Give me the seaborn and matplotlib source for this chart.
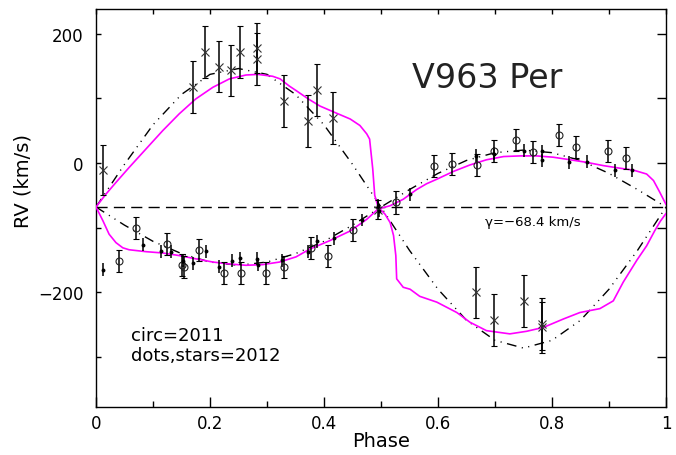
import matplotlib
matplotlib.use("Agg")
import matplotlib.pyplot as plt
import seaborn as sns
import pandas as pd
import numpy as np

# ---------------- data ----------------
gamma = -68.4

# secondary component, 2012 ("stars")
star_phase = [0.012, 0.170, 0.192, 0.215, 0.237, 0.253, 0.282, 0.282, 0.329, 0.372,
              0.387, 0.416, 0.495, 0.667, 0.698, 0.751, 0.783, 0.783]
star_rv = [-11, 117, 172, 149, 143, 172, 178, 161, 96, 65,
           113, 69, -72, -200, -242, -213, -249, -254]
star_err = [39, 40, 40, 39, 40, 40, 39, 40, 40, 40,
            40, 40, 15, 40, 40, 40, 40, 40]

# primary component, 2011 (open circles)
circ_phase = [0.040, 0.070, 0.124, 0.150, 0.155, 0.180, 0.225, 0.254, 0.299, 0.330,
              0.377, 0.4075, 0.451, 0.526, 0.593, 0.624, 0.669, 0.698, 0.736, 0.766,
              0.813, 0.842, 0.899, 0.929]
circ_rv = [-152, -100, -125, -157, -161, -134, -170, -170, -170, -161,
           -131, -143, -104, -61, -5, -1, -3, 19, 35, 17,
           43, 24, 18, 8]
circ_err = [17] * len(circ_phase)

# primary component, 2012 (dots)
dot_phase = [0.012, 0.083, 0.114, 0.132, 0.153, 0.170, 0.193, 0.215, 0.239, 0.253,
             0.282, 0.284, 0.327, 0.3725, 0.387, 0.4175, 0.466, 0.495, 0.496, 0.550,
             0.667, 0.698, 0.751, 0.782, 0.782, 0.830, 0.861, 0.911, 0.941]
dot_rv = [-165, -126, -136, -137, -151, -155, -136, -160, -151, -147,
          -148, -157, -150, -137, -121, -116, -88, -66, -74, -48,
          11, 14, 19, 18, 4, 1, 2, -11, -11]
dot_err = [10] * len(dot_phase)

# orbit solution (dash-dot-dot curves)
orb_phase = [0.00, 0.05, 0.10, 0.15, 0.20, 0.25, 0.30, 0.35, 0.40, 0.45, 0.50,
             0.55, 0.60, 0.65, 0.70, 0.75, 0.80, 0.85, 0.90, 0.95, 1.00]
orb_sec = [-68, -2, 59, 106, 137, 146, 137, 106, 59, -2, -68,
           -135, -195, -243, -274, -286, -274, -243, -195, -135, -68]
orb_pri = [-68, -96, -121, -140, -153, -158, -153, -140, -121, -96, -68,
           -41, -16, 4, 16, 20, 16, 4, -16, -41, -68]

# light-curve model (magenta curves)
mod_sec_phase = [0.000, 0.0175, 0.035, 0.058, 0.088, 0.117, 0.146, 0.175, 0.205, 0.234,
                 0.263, 0.284, 0.310, 0.323, 0.339, 0.351, 0.3725, 0.393, 0.422, 0.446,
                 0.463, 0.475, 0.480, 0.4855, 0.489, 0.495, 0.507, 0.516, 0.522, 0.526,
                 0.5275, 0.539, 0.551, 0.568, 0.598, 0.633, 0.656, 0.685, 0.726, 0.7555,
                 0.785, 0.820, 0.849, 0.884, 0.9075, 0.925, 0.949, 0.966, 0.980, 0.990,
                 1.000]
mod_sec_rv = [-68, -48, -30, -7, 22, 50, 76, 99, 117, 130,
              136, 137, 134, 130, 119, 112, 99, 88, 77, 68,
              58, 45, 37, -9, -50, -68, -79, -92, -112, -143,
              -179, -192, -195, -206, -215, -231, -246, -259, -264, -260,
              -254, -241, -231, -225, -213, -184, -150, -128, -105, -90,
              -78]

mod_pri_phase = [0.000, 0.012, 0.023, 0.035, 0.047, 0.058, 0.088, 0.117, 0.146, 0.175,
                 0.205, 0.234, 0.263, 0.292, 0.322, 0.351, 0.375, 0.410, 0.446, 0.475,
                 0.495, 0.516, 0.539, 0.5625, 0.580, 0.598, 0.627, 0.656, 0.685, 0.715,
                 0.744, 0.773, 0.802, 0.832, 0.861, 0.890, 0.919, 0.943, 0.966, 0.978,
                 0.989, 1.000]
mod_pri_rv = [-68, -89, -110, -123, -131, -134, -137, -139, -143, -148,
              -153, -156, -158, -157, -153, -145, -133, -120, -105, -87,
              -71, -66, -56, -41, -32, -25, -13, -3, 5, 10,
              11, 11, 9, 5, 1, -4, -8, -11, -17, -27,
              -45, -64]

x_ticks = [0, 0.2, 0.4, 0.6, 0.8, 1.0]
x_ticklabels = ["0", "0.2", "0.4", "0.6", "0.8", "1"]
y_ticks = [200, 0, -200]
y_ticklabels = ["200", "0", "\u2212200"]

# ---------------- figure ----------------
sns.set_theme(style="white")
plt.rcParams["font.family"] = ["DejaVu Sans"]
plt.rcParams["axes.linewidth"] = 1.0
plt.rcParams["text.color"] = "black"
plt.rcParams["axes.labelcolor"] = "black"
plt.rcParams["xtick.color"] = "black"
plt.rcParams["ytick.color"] = "black"

fig = plt.figure(figsize=(6.76, 4.56), dpi=100)
ax = fig.add_axes([96 / 676, 48 / 456, 570 / 676, 398 / 456])
ax.set_facecolor("white")

# systemic velocity
ax.axhline(gamma, color="black", lw=1.0, linestyle=(0, (8, 4.5)), zorder=1)

ddot = (0, (7, 4, 0.8, 4, 0.8, 4))
orb = pd.DataFrame({"phase": orb_phase, "sec": orb_sec, "pri": orb_pri})
sns.lineplot(data=orb, x="phase", y="sec", ax=ax, color="black", lw=1.0,
             linestyle=ddot, estimator=None, sort=False, zorder=2)
sns.lineplot(data=orb, x="phase", y="pri", ax=ax, color="black", lw=1.0,
             linestyle=ddot, estimator=None, sort=False, zorder=2)

sec = pd.DataFrame({"phase": mod_sec_phase, "rv": mod_sec_rv})
pri = pd.DataFrame({"phase": mod_pri_phase, "rv": mod_pri_rv})
sns.lineplot(data=sec, x="phase", y="rv", ax=ax, color="#ff00ff", lw=1.2,
             estimator=None, sort=False, zorder=3)
sns.lineplot(data=pri, x="phase", y="rv", ax=ax, color="#ff00ff", lw=1.2,
             estimator=None, sort=False, zorder=3)

# measurements with error bars
ax.errorbar(star_phase, star_rv, yerr=star_err, fmt="x", ms=6, mew=0.8,
            mec="#333333", ecolor="black", elinewidth=1.1, capsize=2.5,
            capthick=1.0, zorder=4)
ax.errorbar(circ_phase, circ_rv, yerr=circ_err, fmt="o", ms=5, mew=0.8,
            mfc="none", mec="#222222", ecolor="black", elinewidth=1.1,
            capsize=2.5, capthick=1.0, zorder=4)
ax.errorbar(dot_phase, dot_rv, yerr=dot_err, fmt="o", ms=2.8, mew=0,
            mfc="black", ecolor="black", elinewidth=1.1, capsize=2.5,
            capthick=1.0, zorder=4)

ax.set_xlim(0, 1)
ax.set_ylim(-377, 238)

# axes, ticks
ax.set_xticks(x_ticks)
ax.set_xticklabels(x_ticklabels)
ax.set_xticks(np.arange(0.1, 1.0, 0.2), minor=True)
ax.set_yticks(y_ticks)
ax.set_yticklabels(y_ticklabels)
ax.set_yticks([100, -100, -300], minor=True)
ax.tick_params(axis="x", which="major", direction="in", length=7.5, width=1.0,
               labelsize=12, pad=5, bottom=True, top=False, labelcolor="black")
ax.tick_params(axis="x", which="minor", direction="in", length=4.5, width=1.0,
               bottom=True, top=False)
ax.tick_params(axis="y", which="both", direction="in", length=3.6, width=1.0,
               labelsize=12, pad=9, left=True, right=False, labelcolor="black")

top = ax.secondary_xaxis("top")
top.set_xticks(np.arange(0, 1.01, 0.1))
top.tick_params(direction="in", length=3.6, width=1.0, labeltop=False)
right = ax.secondary_yaxis("right")
right.set_yticks([200, 100, 0, -100, -200, -300])
right.tick_params(direction="in", length=6.5, width=1.0, labelright=False)
for sax in (top, right):
    for sp in sax.spines.values():
        sp.set_visible(False)

for sp in ax.spines.values():
    sp.set_color("black")
    sp.set_linewidth(1.0)

ax.set_xlabel("Phase", fontsize=14, color="black")
ax.set_ylabel("RV (km/s)", fontsize=14, color="black")
ax.xaxis.set_label_coords(0.5, -0.06)
ax.yaxis.set_label_coords(-0.112, 0.57)

# annotations
ax.text(0.554, 117, "V963 Per", fontsize=24, ha="left", va="baseline", color="#222222")
ax.text(0.682, -96, "\u03b3=\u221268.4 km/s", fontsize=9.5, ha="left", va="baseline",
        color="black")
ax.text(0.061, -274, "circ=2011", fontsize=13, ha="left", va="baseline", color="black")
ax.text(0.061, -305, "dots,stars=2012", fontsize=13, ha="left", va="baseline",
        color="black")

fig.savefig("out.png", dpi=100, facecolor="white")
